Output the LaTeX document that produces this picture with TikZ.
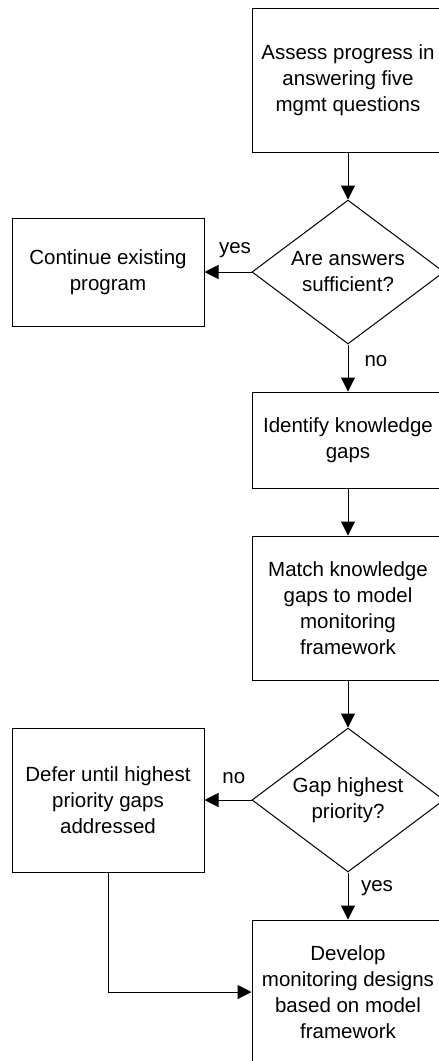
\documentclass[tikz,border=0pt]{standalone}
\usepackage{fontspec}
\setmainfont{Liberation Sans}
\usetikzlibrary{shapes.geometric,arrows.meta}
\begin{document}
\begin{tikzpicture}[x=1pt,y=-1pt,
  txt/.style={font=\fontsize{20.5}{26}\selectfont},
  box/.style={txt, draw, line width=1pt, minimum width=192pt, inner sep=0pt, align=center},
  dec/.style={txt, draw, diamond, aspect=1.333, line width=1pt, minimum width=192pt, minimum height=144pt, inner sep=0pt, align=center},
  arr/.style={line width=1pt, -{Triangle[length=14pt,width=14pt]}},
  lbl/.style={txt, inner sep=0pt}]
\useasboundingbox (0,0) rectangle (439,1061);
\clip (0,0) rectangle (439,1061);
\node[box, minimum height=144pt] (assess) at (348,80) {Assess progress in\\answering five\\mgmt questions};
\node[dec] (dec1) at (348,272) {Are answers\\sufficient?};
\node[box, minimum height=108pt] (cont) at (108,272) {Continue existing\\program};
\node[box, minimum height=96pt] (ident) at (348,440) {Identify knowledge\\gaps};
\node[box, minimum height=144pt] (match) at (348,608) {Match knowledge\\gaps to model\\monitoring\\framework};
\node[dec] (dec2) at (348,800) {Gap highest\\priority?};
\node[box, minimum height=144pt] (defer) at (108,800) {Defer until highest\\priority gaps\\addressed};
\node[box, minimum height=144pt] (develop) at (348,992) {Develop\\monitoring designs\\based on model\\framework};
\draw[arr] (assess.south) -- (dec1.north);
\draw[arr] (dec1.west) -- node[lbl, pos=0.35, yshift=22pt] {yes} (cont.east);
\draw[arr] (dec1.south) -- node[lbl, pos=0.35, xshift=28pt] {no} (ident.north);
\draw[arr] (ident.south) -- (match.north);
\draw[arr] (match.south) -- (dec2.north);
\draw[arr] (dec2.west) -- node[lbl, pos=0.375, yshift=22pt] {no} (defer.east);
\draw[arr] (dec2.south) -- node[lbl, pos=0.33, xshift=29pt] {yes} (develop.north);
\draw[arr] (defer.south) |- (develop.west);
\end{tikzpicture}
\end{document}
